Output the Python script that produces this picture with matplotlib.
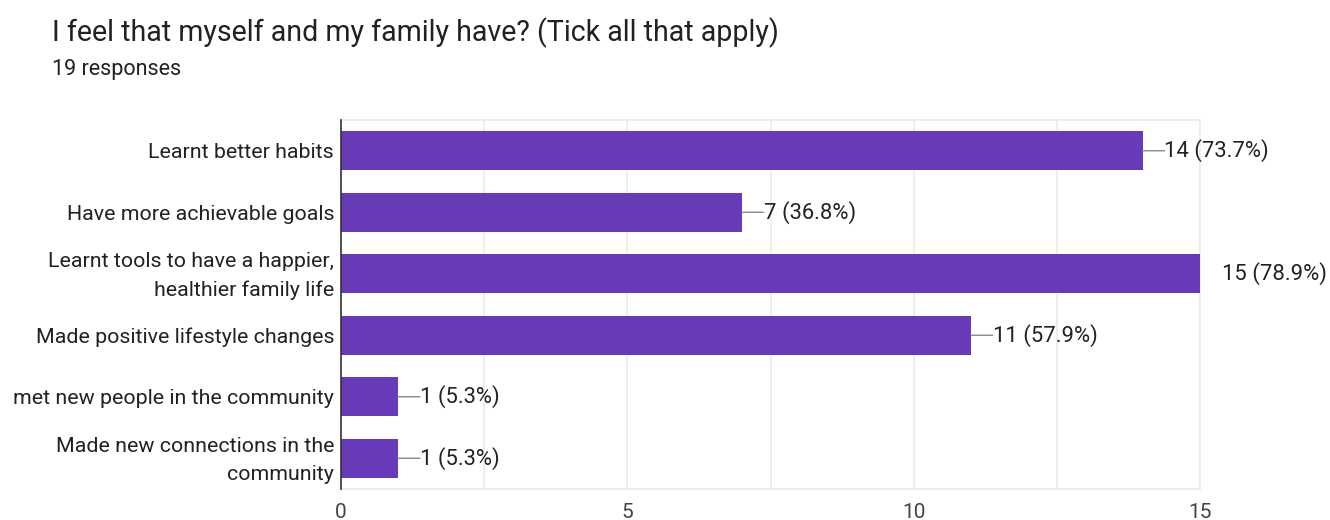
import matplotlib.pyplot as plt
import matplotlib.transforms as mtransforms
import numpy as np

# data
categories = ['Learnt better habits',
              'Have more achievable goals',
              'Learnt tools to have a happier,\nhealthier family life',
              'Made positive lifestyle changes',
              'met new people in the community',
              'Made new connections in the\ncommunity']
counts = [14, 7, 15, 11, 1, 1]
percents = [73.7, 36.8, 78.9, 57.9, 5.3, 5.3]
xticks = [0, 5, 10, 15]

plt.rcParams['font.family'] = ['Roboto', 'DejaVu Sans']

fig = plt.figure(figsize=(13.3, 5.2), dpi=100)
ax = fig.add_axes([341/1330, 1 - 489/520, (1200 - 341)/1330, (489 - 120)/520])

y = np.arange(len(categories))
ax.barh(y, counts, height=0.63, color='#673ab7', zorder=3)

ax.set_xlim(0, 15)
ax.set_ylim(len(categories) - 0.5, -0.5)
grid_x = np.arange(0, 15.1, 2.5)
ax.set_xticks(grid_x)
ax.set_xticklabels(['%d' % t if t in xticks else '' for t in grid_x])
ax.grid(axis='x', color='#ebebeb', linewidth=1.2, zorder=0)
ax.set_yticks(y)
ax.set_yticklabels(categories, fontsize=15.4, color='#222222', linespacing=1.55)
ax.tick_params(axis='y', length=0, pad=5)
ax.tick_params(axis='x', length=0, pad=10, labelsize=15, labelcolor='#444444')

# nudge two-line labels up a little
for lab in ax.get_yticklabels():
    if '\n' in lab.get_text():
        lab.set_transform(lab.get_transform() +
                          mtransforms.ScaledTranslation(0, 4/100, fig.dpi_scale_trans))

for s in ['top', 'right', 'bottom']:
    ax.spines[s].set_color('#ebebeb')
    ax.spines[s].set_linewidth(1.2)
ax.spines['left'].set_color('#333333')
ax.spines['left'].set_linewidth(1.2)
ax.spines['left'].set_zorder(4)

# value labels with short leader lines
for i, (c, p) in enumerate(zip(counts, percents)):
    if c >= 15:
        ax.annotate('%d (%.1f%%)' % (c, p), xy=(c, i), xytext=(16, 0),
                    textcoords='offset points', va='center', ha='left',
                    fontsize=15.8, color='#222222', annotation_clip=False)
        continue
    ax.annotate('', xy=(c, i), xytext=(c + 0.38, i),
                arrowprops=dict(arrowstyle='-', color='#888888', lw=1, shrinkA=0, shrinkB=0))
    ax.text(c + 0.38, i, '%d (%.1f%%)' % (c, p), va='center', ha='left',
            fontsize=15.8, color='#222222')

fig.text(52/1330, 1 - 33/520, 'I feel that myself and my family have? (Tick all that apply)',
         fontsize=20.6, color='#202124', va='center', ha='left')
fig.text(52/1330, 1 - 70/520, '19 responses', fontsize=15.5, color='#202124',
         va='center', ha='left')

fig.savefig('out.png', dpi=100)
